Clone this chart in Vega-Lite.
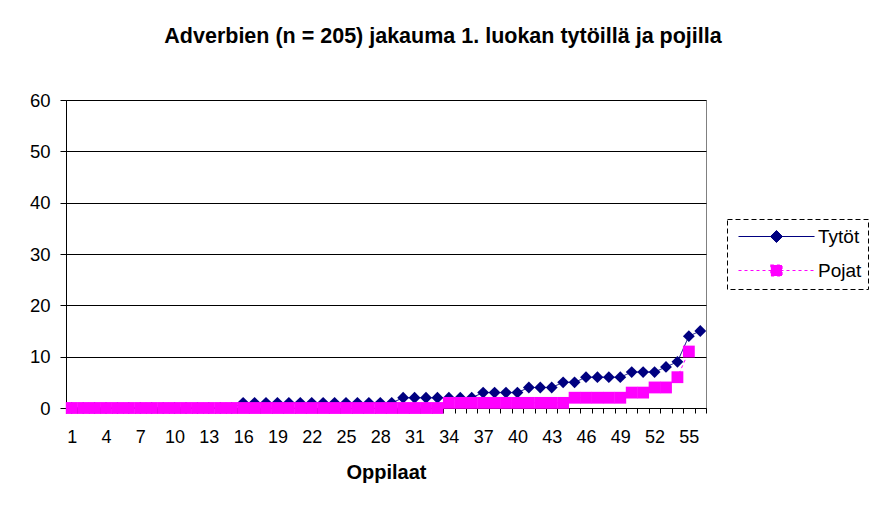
{
  "$schema": "https://vega.github.io/schema/vega-lite/v6.json",
  "width": 640,
  "height": 308,
  "autosize": {"type": "none"},
  "padding": {"left": 66, "top": 100, "right": 163, "bottom": 101},
  "background": "white",
  "config": {
    "font": "Liberation Sans",
    "view": {"stroke": "#808080", "strokeWidth": 1}
  },
  "title": {
    "text": "Adverbien (n = 205) jakauma 1. luokan tytöillä ja pojilla",
    "fontSize": 21.5,
    "fontWeight": "bold",
    "font": "Liberation Sans",
    "color": "black",
    "anchor": "middle",
    "dx": 57,
    "offset": 44
  },
  "data": {
    "values": [
      {"i": 1, "s": "Tytöt", "v": 0}, {"i": 2, "s": "Tytöt", "v": 0}, {"i": 3, "s": "Tytöt", "v": 0}, {"i": 4, "s": "Tytöt", "v": 0},
      {"i": 5, "s": "Tytöt", "v": 0}, {"i": 6, "s": "Tytöt", "v": 0}, {"i": 7, "s": "Tytöt", "v": 0}, {"i": 8, "s": "Tytöt", "v": 0},
      {"i": 9, "s": "Tytöt", "v": 0}, {"i": 10, "s": "Tytöt", "v": 0}, {"i": 11, "s": "Tytöt", "v": 0}, {"i": 12, "s": "Tytöt", "v": 0},
      {"i": 13, "s": "Tytöt", "v": 0}, {"i": 14, "s": "Tytöt", "v": 0}, {"i": 15, "s": "Tytöt", "v": 0}, {"i": 16, "s": "Tytöt", "v": 1},
      {"i": 17, "s": "Tytöt", "v": 1}, {"i": 18, "s": "Tytöt", "v": 1}, {"i": 19, "s": "Tytöt", "v": 1}, {"i": 20, "s": "Tytöt", "v": 1},
      {"i": 21, "s": "Tytöt", "v": 1}, {"i": 22, "s": "Tytöt", "v": 1}, {"i": 23, "s": "Tytöt", "v": 1}, {"i": 24, "s": "Tytöt", "v": 1},
      {"i": 25, "s": "Tytöt", "v": 1}, {"i": 26, "s": "Tytöt", "v": 1}, {"i": 27, "s": "Tytöt", "v": 1}, {"i": 28, "s": "Tytöt", "v": 1},
      {"i": 29, "s": "Tytöt", "v": 1}, {"i": 30, "s": "Tytöt", "v": 2}, {"i": 31, "s": "Tytöt", "v": 2}, {"i": 32, "s": "Tytöt", "v": 2},
      {"i": 33, "s": "Tytöt", "v": 2}, {"i": 34, "s": "Tytöt", "v": 2}, {"i": 35, "s": "Tytöt", "v": 2}, {"i": 36, "s": "Tytöt", "v": 2},
      {"i": 37, "s": "Tytöt", "v": 3}, {"i": 38, "s": "Tytöt", "v": 3}, {"i": 39, "s": "Tytöt", "v": 3}, {"i": 40, "s": "Tytöt", "v": 3},
      {"i": 41, "s": "Tytöt", "v": 4}, {"i": 42, "s": "Tytöt", "v": 4}, {"i": 43, "s": "Tytöt", "v": 4}, {"i": 44, "s": "Tytöt", "v": 5},
      {"i": 45, "s": "Tytöt", "v": 5}, {"i": 46, "s": "Tytöt", "v": 6}, {"i": 47, "s": "Tytöt", "v": 6}, {"i": 48, "s": "Tytöt", "v": 6},
      {"i": 49, "s": "Tytöt", "v": 6}, {"i": 50, "s": "Tytöt", "v": 7}, {"i": 51, "s": "Tytöt", "v": 7}, {"i": 52, "s": "Tytöt", "v": 7},
      {"i": 53, "s": "Tytöt", "v": 8}, {"i": 54, "s": "Tytöt", "v": 9}, {"i": 55, "s": "Tytöt", "v": 14}, {"i": 56, "s": "Tytöt", "v": 15},
      {"i": 1, "s": "Pojat", "v": 0}, {"i": 2, "s": "Pojat", "v": 0}, {"i": 3, "s": "Pojat", "v": 0}, {"i": 4, "s": "Pojat", "v": 0},
      {"i": 5, "s": "Pojat", "v": 0}, {"i": 6, "s": "Pojat", "v": 0}, {"i": 7, "s": "Pojat", "v": 0}, {"i": 8, "s": "Pojat", "v": 0},
      {"i": 9, "s": "Pojat", "v": 0}, {"i": 10, "s": "Pojat", "v": 0}, {"i": 11, "s": "Pojat", "v": 0}, {"i": 12, "s": "Pojat", "v": 0},
      {"i": 13, "s": "Pojat", "v": 0}, {"i": 14, "s": "Pojat", "v": 0}, {"i": 15, "s": "Pojat", "v": 0}, {"i": 16, "s": "Pojat", "v": 0},
      {"i": 17, "s": "Pojat", "v": 0}, {"i": 18, "s": "Pojat", "v": 0}, {"i": 19, "s": "Pojat", "v": 0}, {"i": 20, "s": "Pojat", "v": 0},
      {"i": 21, "s": "Pojat", "v": 0}, {"i": 22, "s": "Pojat", "v": 0}, {"i": 23, "s": "Pojat", "v": 0}, {"i": 24, "s": "Pojat", "v": 0},
      {"i": 25, "s": "Pojat", "v": 0}, {"i": 26, "s": "Pojat", "v": 0}, {"i": 27, "s": "Pojat", "v": 0}, {"i": 28, "s": "Pojat", "v": 0},
      {"i": 29, "s": "Pojat", "v": 0}, {"i": 30, "s": "Pojat", "v": 0}, {"i": 31, "s": "Pojat", "v": 0}, {"i": 32, "s": "Pojat", "v": 0},
      {"i": 33, "s": "Pojat", "v": 0}, {"i": 34, "s": "Pojat", "v": 1}, {"i": 35, "s": "Pojat", "v": 1}, {"i": 36, "s": "Pojat", "v": 1},
      {"i": 37, "s": "Pojat", "v": 1}, {"i": 38, "s": "Pojat", "v": 1}, {"i": 39, "s": "Pojat", "v": 1}, {"i": 40, "s": "Pojat", "v": 1},
      {"i": 41, "s": "Pojat", "v": 1}, {"i": 42, "s": "Pojat", "v": 1}, {"i": 43, "s": "Pojat", "v": 1}, {"i": 44, "s": "Pojat", "v": 1},
      {"i": 45, "s": "Pojat", "v": 2}, {"i": 46, "s": "Pojat", "v": 2}, {"i": 47, "s": "Pojat", "v": 2}, {"i": 48, "s": "Pojat", "v": 2},
      {"i": 49, "s": "Pojat", "v": 2}, {"i": 50, "s": "Pojat", "v": 3}, {"i": 51, "s": "Pojat", "v": 3}, {"i": 52, "s": "Pojat", "v": 4},
      {"i": 53, "s": "Pojat", "v": 4}, {"i": 54, "s": "Pojat", "v": 6}, {"i": 55, "s": "Pojat", "v": 11}
    ]
  },
  "encoding": {
    "x": {
      "field": "i",
      "type": "quantitative",
      "scale": {"domain": [0.5, 56.5], "nice": false, "zero": false},
      "axis": {
        "values": [0.5, 1.5, 2.5, 3.5, 4.5, 5.5, 6.5, 7.5, 8.5, 9.5, 10.5, 11.5, 12.5, 13.5, 14.5, 15.5, 16.5, 17.5, 18.5, 19.5, 20.5, 21.5, 22.5, 23.5, 24.5, 25.5, 26.5, 27.5, 28.5, 29.5, 30.5, 31.5, 32.5, 33.5, 34.5, 35.5, 36.5, 37.5, 38.5, 39.5, 40.5, 41.5, 42.5, 43.5, 44.5, 45.5, 46.5, 47.5, 48.5, 49.5, 50.5, 51.5, 52.5, 53.5, 54.5, 55.5, 56.5],
        "labelExpr": "(datum.value - 0.5) % 3 == 0 ? format(datum.value + 0.5, 'd') : ''",
        "labelOffset": 5.714,
        "labelOverlap": false,
        "labelFlush": false,
        "labelBound": false,
        "grid": false,
        "tickSize": 5,
        "tickColor": "black",
        "domainColor": "black",
        "labelColor": "black",
        "labelFontSize": 18,
        "labelPadding": 15,
        "title": "Oppilaat",
        "titleFontSize": 20,
        "titleFontWeight": "bold",
        "titleColor": "black",
        "titlePadding": 16
      }
    },
    "y": {
      "field": "v",
      "type": "quantitative",
      "scale": {"domain": [0, 60], "nice": false},
      "axis": {
        "values": [0, 10, 20, 30, 40, 50, 60],
        "grid": true,
        "gridColor": "black",
        "gridOpacity": 1,
        "tickSize": 6,
        "tickColor": "black",
        "domainColor": "black",
        "labelColor": "black",
        "labelFontSize": 18.5,
        "labelPadding": 10,
        "title": null
      }
    }
  },
  "layer": [
    {
      "mark": {"type": "line", "strokeWidth": 1},
      "encoding": {
        "color": {
          "field": "s",
          "type": "nominal",
          "scale": {"domain": ["Tytöt", "Pojat"], "range": ["#000080", "#FF00FF"]},
          "legend": {
            "orient": "none",
            "legendX": 661,
            "legendY": 119,
            "values": ["Tytöt"],
            "title": " ",
            "titleOrient": "bottom",
            "titleFontSize": 19,
            "titlePadding": 15,
            "padding": 8,
            "strokeColor": "black",
            "fillColor": "white",
            "symbolType": "M-1,0H11.67M5.33,-1L6.33,0L5.33,1L4.33,0Z",
            "symbolSize": 144,
            "symbolStrokeWidth": 1,
            "symbolFillColor": "#000080",
            "symbolStrokeColor": "#000080",
            "symbolOpacity": 1,
            "labelFontSize": 19,
            "labelColor": "black",
            "labelOffset": 64,
            "encode": {
              "legend": {"update": {"strokeDash": {"value": [5, 3]}}}
            }
          }
        },
        "strokeDash": {
          "field": "s",
          "type": "nominal",
          "scale": {"domain": ["Pojat", "Tytöt"], "range": [[3, 3], [1, 0]]},
          "legend": {
            "orient": "none",
            "legendX": 661,
            "legendY": 153,
            "values": ["Pojat"],
            "title": null,
            "padding": 8,
            "symbolType": "M-1,0H11.67M4.4,-0.92H6.25V0.92H4.4Z",
            "symbolSize": 144,
            "symbolStrokeWidth": 1.2,
            "symbolFillColor": "#FF00FF",
            "symbolStrokeColor": "#FF00FF",
            "symbolOpacity": 1,
            "labelFontSize": 19,
            "labelColor": "black",
            "labelOffset": 64
          }
        }
      }
    },
    {
      "transform": [{"filter": "datum.s === 'Tytöt'"}],
      "mark": {"type": "point", "shape": "diamond", "filled": true, "color": "#000080", "opacity": 1, "size": 140}
    },
    {
      "transform": [{"filter": "datum.s === 'Pojat'"}],
      "mark": {"type": "point", "shape": "square", "filled": true, "color": "#FF00FF", "opacity": 1, "size": 140}
    }
  ]
}
